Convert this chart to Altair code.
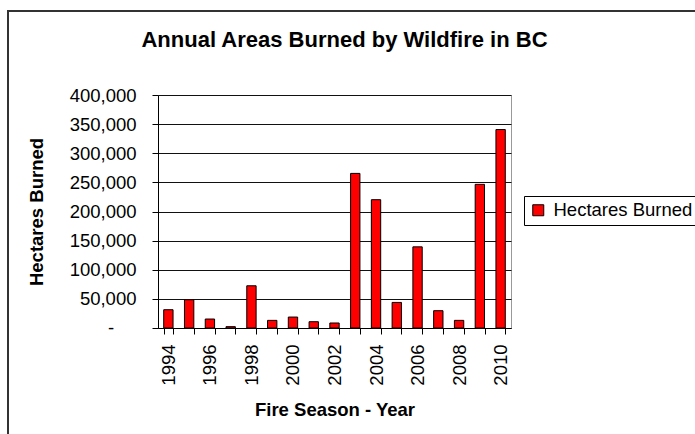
import altair as alt
import pandas as pd

years = list(range(1994, 2011))
hectares = [31400, 48500, 15400, 2300, 72500, 13100, 18800, 10800, 8600,
            265400, 220300, 43900, 139300, 29700, 13100, 246600, 340700]
series_name = "Hectares Burned"
y_ticks = [0, 50000, 100000, 150000, 200000, 250000, 300000, 350000, 400000]
zero_label = "-"

df = pd.DataFrame({"year": years, "hectares": hectares, "series": series_name})
zero_df = pd.DataFrame({"hectares": [0], "label": [zero_label]})

FONT = "Liberation Sans"

y_scale = alt.Scale(domain=[0, 400000], nice=False)
y_axis = alt.Axis(title="Hectares Burned", values=y_ticks,
                  labelExpr="datum.value == 0 ? '' : format(datum.value, ',')",
                  tickSize=6, labelPadding=16, titlePadding=23,
                  domainColor="black", tickColor="black",
                  grid=True, gridColor="#111111", gridOpacity=1)

bars = alt.Chart(df).mark_bar(stroke="black", strokeWidth=1).encode(
    x=alt.X("year:O",
            scale=alt.Scale(paddingInner=0.55, paddingOuter=0.275),
            axis=alt.Axis(title="Fire Season - Year", labelAngle=270,
                          labelExpr="datum.value % 2 == 0 ? datum.label : ''",
                          tickBand="extent", tickSize=6, labelPadding=10,
                          titlePadding=15, domainColor="black", tickColor="black",
                          grid=False)),
    y=alt.Y("hectares:Q", scale=y_scale, axis=y_axis),
    color=alt.Color("series:N", scale=alt.Scale(range=["#FF0000"]),
                    legend=alt.Legend(title=None, orient="none", legendX=366, legendY=101,
                                      padding=5, strokeColor="black", fillColor="white",
                                      symbolType="square", symbolSize=121,
                                      symbolStrokeColor="black", symbolStrokeWidth=1,
                                      symbolOpacity=1, labelOffset=6))
)

zero_text = alt.Chart(zero_df).mark_text(font=FONT, fontSize=18.5, color="black",
                                         align="center", baseline="middle").encode(
    x=alt.value(-47), y=alt.Y("hectares:Q", scale=y_scale, axis=y_axis), text="label:N"
)

border_df = pd.DataFrame({"k": [0]})
top_border = alt.Chart(border_df).mark_rule(color="#333333", strokeWidth=2, strokeCap="square").encode(
    x=alt.value(-150), x2=alt.value(600), y=alt.value(-84)
)
left_border = alt.Chart(border_df).mark_rule(color="#333333", strokeWidth=2, strokeCap="square").encode(
    x=alt.value(-150), y=alt.value(-84), y2=alt.value(400)
)

chart = alt.layer(bars, zero_text, top_border, left_border).properties(
    width=353, height=233,
    title=alt.TitleParams("Annual Areas Burned by Wildfire in BC", fontSize=22,
                          font=FONT, fontWeight="bold", anchor="middle",
                          baseline="alphabetic", dx=10, dy=59, offset=0),
    autosize=alt.AutoSizeParams(type="none"),
    padding={"left": 158, "top": 95, "right": 184, "bottom": 106},
).configure_view(stroke="#999999", strokeWidth=1).configure_axis(
    labelFont=FONT, labelFontSize=18.5, labelColor="black",
    titleFont=FONT, titleFontSize=18.5, titleColor="black", titleFontWeight="bold",
).configure_legend(labelFont=FONT, labelFontSize=18.5, labelColor="black")

chart.save("out.html", embed_options={"renderer": "svg", "actions": False})
